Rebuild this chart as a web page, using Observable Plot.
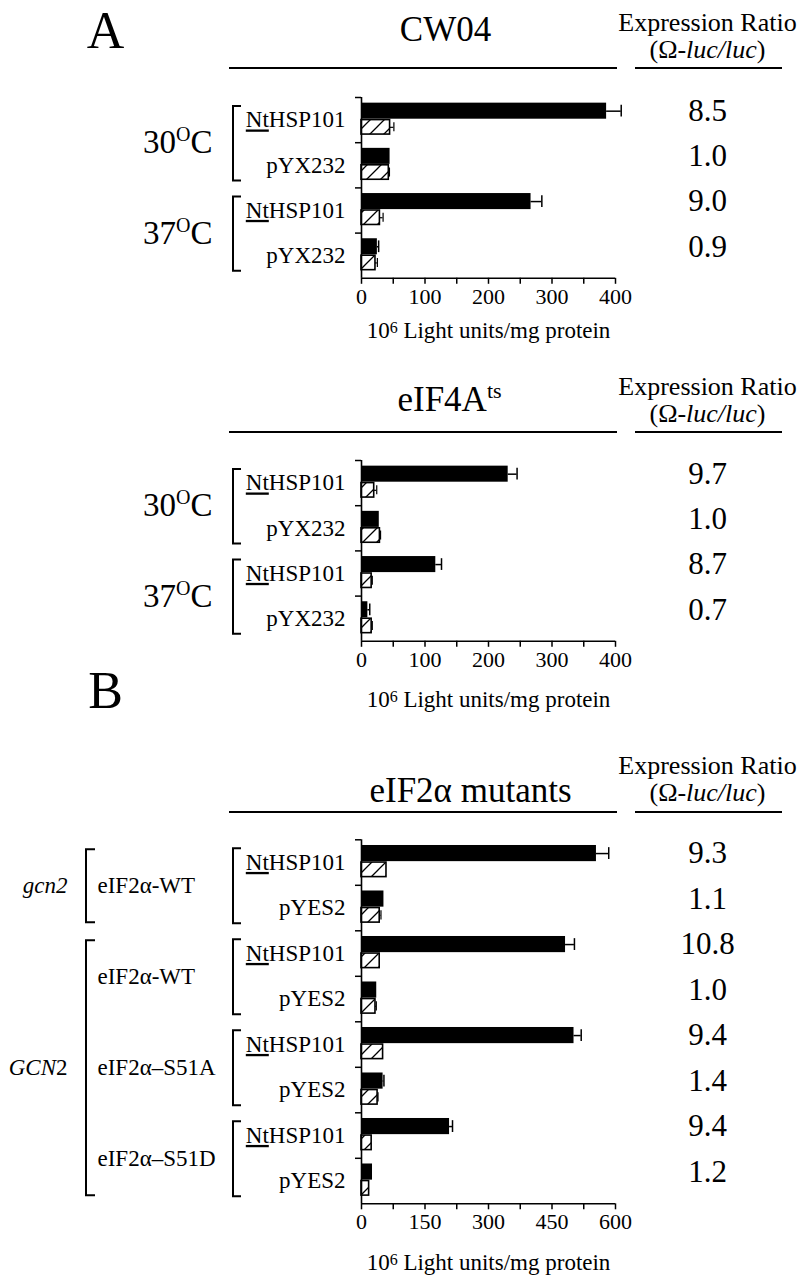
<!DOCTYPE html>
<html>
<head>
<meta charset="utf-8">
<script src="https://cdn.jsdelivr.net/npm/d3@7"></script>
<script src="https://cdn.jsdelivr.net/npm/@observablehq/plot@0.6"></script>
<style>
  body { margin: 0; background: #fff; }
  #fig { position: relative; width: 800px; height: 1275px; overflow: hidden; }
  #fig > svg { position: absolute; left: 0; }
  #fig svg, #fig svg text { font-family: "Liberation Serif", "Times New Roman", serif !important; }
</style>
</head>
<body>
<div id="fig"></div>
<script>
// ---------- Data ----------
// Panel A, strain CW04 (black = Ω-luc, hatched = luc)
const cw04Labels   = ["NtHSP101", "pYX232", "NtHSP101", "pYX232"];
const cw04Omega    = [386, 45, 267, 25];
const cw04OmegaErr = [23, 0, 17, 2];
const cw04Luc      = [45, 43, 29, 22];
const cw04LucErr   = [6, 1, 5, 3];
const cw04Ratio    = ["8.5", "1.0", "9.0", "0.9"];

// Panel A, strain eIF4Ats
const eif4Labels   = ["NtHSP101", "pYX232", "NtHSP101", "pYX232"];
const eif4Omega    = [231, 28, 117, 10];
const eif4OmegaErr = [14, 0, 9, 3];
const eif4Luc      = [20, 29, 16, 16];
const eif4LucErr   = [4, 1, 1, 1];
const eif4Ratio    = ["9.7", "1.0", "8.7", "0.7"];

const tempLabels = ["30°C", "37°C"];

// Panel B, eIF2α mutants
const eif2Labels   = ["NtHSP101", "pYES2", "NtHSP101", "pYES2", "NtHSP101", "pYES2", "NtHSP101", "pYES2"];
const eif2Omega    = [555, 53, 482, 36, 502, 51, 208, 26];
const eif2OmegaErr = [29, 0, 21, 0, 17, 2, 7, 0];
const eif2Luc      = [59, 43, 43, 33, 51, 38, 24, 18];
const eif2LucErr   = [0, 3, 0, 2, 0, 1, 0, 0];
const eif2Ratio    = ["9.3", "1.1", "10.8", "1.0", "9.4", "1.4", "9.4", "1.2"];
const eif2Alleles  = ["eIF2α-WT", "eIF2α-WT", "eIF2α–S51A", "eIF2α–S51D"];
const eif2Strains  = ["gcn2", "GCN2"];
const eif2StrainPairs = [[0, 1], [1, 4]]; // which construct pairs each strain covers

const AXIS_LABEL = "10⁶ Light units/mg protein";

// ---------- Drawing ----------
const FONT = "Liberation Serif";
const ML = 361, MR = 185, W = 800;
const fig = document.getElementById("fig");

function richify(svg) {
  d3.select(svg).selectAll("text").each(function () {
    if (this.children.length) return;
    const t = this.textContent;
    let h = null;
    let m;
    if (t === "NtHSP101") h = '<tspan style="text-decoration:underline">Nt</tspan>HSP101';
    else if ((m = t.match(/^(\d+)°C$/))) h = `${m[1]}<tspan font-size="20" dy="-12">O</tspan><tspan dy="12">C</tspan>`;
    else if (t === "eIF4Ats") h = 'eIF4A<tspan font-size="22" dy="-13">ts</tspan>';
    else if (t === "(Ω-luc/luc)") h = '(Ω-<tspan font-style="italic">luc/luc</tspan>)';
    else if (t === "GCN2") h = '<tspan font-style="italic">GCN</tspan>2';
    else if (t === "gcn2") h = '<tspan font-style="italic">gcn2</tspan>';
    else if (t === AXIS_LABEL) h = '10<tspan font-size="16" dy="-5">6</tspan><tspan dy="5"> Light units/mg protein</tspan>';
    if (h) this.innerHTML = h;
  });
}

function buildPanel(cfg) {
  const n = cfg.labels.length;
  const rows = cfg.labels.map((label, i) => ({
    i, label,
    omega: cfg.omega[i], omegaErr: cfg.omegaErr[i],
    luc: cfg.luc[i], lucErr: cfg.lucErr[i],
    ratio: cfg.ratio[i]
  }));
  const mt = cfg.frameTop - cfg.top;
  const mb = cfg.top + cfg.height - cfg.frameBottom;
  const fx = X => X - ML;
  const fy = Y => Y - cfg.frameTop;
  const BT = 0.125, BB = 0.48, HT = 0.50, HB = 0.82;
  const bc = (BT + BB) / 2, hc = (HT + HB) / 2;
  const note = (text, X, Y, o = {}) => Plot.text([text], {
    text: d => d, frameAnchor: "top-left", dx: fx(X), dy: fy(Y),
    textAnchor: "middle", lineAnchor: "middle", fontSize: 26, fontFamily: FONT, ...o
  });
  const oErr = rows.filter(d => d.omegaErr > 0);
  const lErr = rows.filter(d => d.lucErr > 0);

  const marks = [
    Plot.rectX(rows, {x1: 0, x2: "omega", y1: d => d.i + BT, y2: d => d.i + BB, fill: "black"}),
    Plot.rectX(rows, {x1: 0, x2: "luc", y1: d => d.i + HT, y2: d => d.i + HB,
      fill: `url(#${cfg.id})`, stroke: "black", strokeWidth: 1.6}),
    Plot.ruleY(oErr, {y: d => d.i + bc, x1: "omega", x2: d => d.omega + d.omegaErr, strokeWidth: 1.5}),
    Plot.ruleX(oErr, {x: d => d.omega + d.omegaErr, y1: d => d.i + bc - 0.13, y2: d => d.i + bc + 0.13, strokeWidth: 1.5}),
    Plot.ruleY(lErr, {y: d => d.i + hc, x1: "luc", x2: d => d.luc + d.lucErr, strokeWidth: 1.2}),
    Plot.ruleX(lErr, {x: d => d.luc + d.lucErr, y1: d => d.i + hc - 0.1, y2: d => d.i + hc + 0.1, strokeWidth: 1.2}),
    Plot.ruleX([0], {strokeWidth: 1.6}),
    Plot.ruleY([n], {strokeWidth: 1.6}),
    Plot.axisX({ticks: d3.range(0, cfg.xMax + 1, cfg.tickStep),
      tickFormat: d => d % cfg.labelStep === 0 ? String(d) : "",
      tickSize: 6, tickPadding: 4, fontSize: 22, fontFamily: FONT, label: null, strokeWidth: 1.5}),
    Plot.axisY({ticks: d3.range(0, n), tickFormat: () => "", tickSize: 6, label: null, strokeWidth: 1.5}),
    Plot.text(rows, {y: d => d.i + 0.5, text: "label", frameAnchor: "left", dx: -16,
      textAnchor: "end", lineAnchor: "middle", fontSize: 23, fontFamily: FONT}),
    Plot.text(rows, {y: d => d.i + bc, text: "ratio", frameAnchor: "left", dx: fx(707),
      textAnchor: "middle", lineAnchor: "middle", fontSize: 31, fontFamily: FONT}),
    note(cfg.title, cfg.titleX, cfg.titleY, {fontSize: 35}),
    note("Expression Ratio", 707, cfg.erY, {fontSize: 26}),
    note("(Ω-luc/luc)", 707, cfg.erY + 27, {fontSize: 26}),
    Plot.text([AXIS_LABEL], {text: d => d, frameAnchor: "bottom", dy: cfg.axisLabelY - cfg.frameBottom,
      textAnchor: "middle", lineAnchor: "middle", fontSize: 23, fontFamily: FONT})
  ];
  if (cfg.letter) marks.push(note(cfg.letter, 105, cfg.letterY, {fontSize: 52}));
  if (cfg.temps) {
    marks.push(Plot.text(cfg.temps.map((t, k) => ({t, y: 2 * k + 1})), {
      y: "y", text: "t", frameAnchor: "left", dx: fx(212), textAnchor: "end", lineAnchor: "middle",
      fontSize: 33, fontFamily: FONT
    }));
  }
  if (cfg.alleles) {
    marks.push(Plot.text(cfg.alleles.map((t, k) => ({t, y: 2 * k + 1})), {
      y: "y", text: "t", frameAnchor: "left", dx: fx(97), textAnchor: "start", lineAnchor: "middle",
      fontSize: 23, fontFamily: FONT
    }));
    marks.push(Plot.text(cfg.strains.map((t, k) => ({t, y: (cfg.strainPairs[k][0] + cfg.strainPairs[k][1])})), {
      y: "y", text: "t", frameAnchor: "left", dx: fx(67), textAnchor: "end", lineAnchor: "middle",
      fontSize: 23, fontFamily: FONT
    }));
  }

  const svg = Plot.plot({
    width: W, height: cfg.height,
    marginLeft: ML, marginRight: MR, marginTop: mt, marginBottom: mb,
    style: {background: "transparent", overflow: "visible", color: "black"},
    x: {domain: [0, cfg.xMax]},
    y: {domain: [0, n], reverse: true},
    marks
  });
  svg.style.top = cfg.top + "px";
  const s = d3.select(svg);

  // hatch pattern
  const defs = s.insert("defs", ":first-child");
  const pat = defs.append("pattern").attr("id", cfg.id)
    .attr("patternUnits", "userSpaceOnUse").attr("width", 14).attr("height", 14);
  pat.append("rect").attr("width", 14).attr("height", 14).attr("fill", "white");
  pat.append("path").attr("d", "M0,14L14,0M-3.5,3.5L3.5,-3.5M10.5,17.5L17.5,10.5")
    .attr("stroke", "black").attr("stroke-width", 1.3);

  // header rules
  const ly = cfg.lineY - cfg.top;
  [[229, 617], [635, 782]].forEach(([a, b]) =>
    s.append("line").attr("x1", a).attr("x2", b).attr("y1", ly).attr("y2", ly)
      .attr("stroke", "black").attr("stroke-width", 2));

  // brackets from the y scale
  const ys = svg.scale("y");
  const bracket = (x, y1, y2, arm = 8) =>
    s.append("path").attr("d", `M${x + arm},${y1}H${x}V${y2}H${x + arm}`)
      .attr("fill", "none").attr("stroke", "black").attr("stroke-width", 2);
  for (let k = 0; k < n / 2; k++) bracket(233, ys.apply(2 * k) + 9, ys.apply(2 * k + 2) - 7);
  if (cfg.strainPairs) {
    cfg.strainPairs.forEach(([a, b]) => bracket(86, ys.apply(2 * a) + 10, ys.apply(2 * b) - 8, 9));
  }
  richify(svg);
  fig.appendChild(svg);
}

buildPanel({
  id: "hatchA1", top: 0, height: 345, frameTop: 97, frameBottom: 277.8,
  labels: cw04Labels, omega: cw04Omega, omegaErr: cw04OmegaErr, luc: cw04Luc, lucErr: cw04LucErr, ratio: cw04Ratio,
  xMax: 400, tickStep: 50, labelStep: 100,
  title: "CW04", titleX: 445, titleY: 29, erY: 22, lineY: 68, axisLabelY: 330,
  letter: "A", letterY: 31, temps: tempLabels
});
buildPanel({
  id: "hatchA2", top: 345, height: 365, frameTop: 460, frameBottom: 640.8,
  labels: eif4Labels, omega: eif4Omega, omegaErr: eif4OmegaErr, luc: eif4Luc, lucErr: eif4LucErr, ratio: eif4Ratio,
  xMax: 400, tickStep: 50, labelStep: 100,
  title: "eIF4Ats", titleX: 449, titleY: 399, erY: 386, lineY: 432, axisLabelY: 699,
  temps: tempLabels
});
buildPanel({
  id: "hatchB", top: 660, height: 615, frameTop: 839.3, frameBottom: 1203.3,
  labels: eif2Labels, omega: eif2Omega, omegaErr: eif2OmegaErr, luc: eif2Luc, lucErr: eif2LucErr, ratio: eif2Ratio,
  xMax: 600, tickStep: 75, labelStep: 150,
  title: "eIF2α mutants", titleX: 470, titleY: 790, erY: 765, lineY: 812, axisLabelY: 1262,
  letter: "B", letterY: 691,
  alleles: eif2Alleles, strains: eif2Strains, strainPairs: eif2StrainPairs
});
</script>
</body>
</html>
